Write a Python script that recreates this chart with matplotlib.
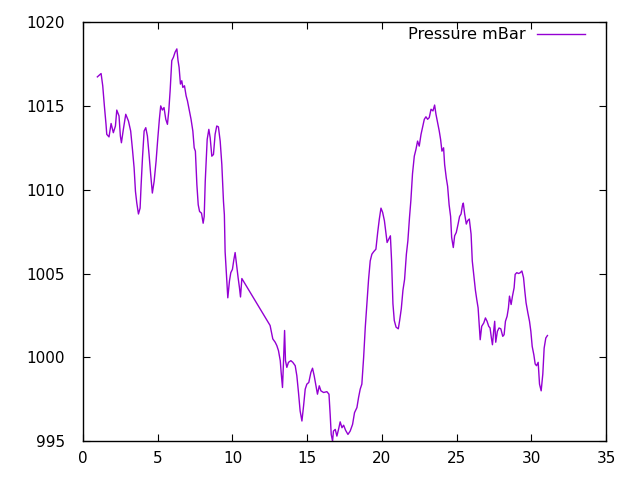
import numpy as np
import matplotlib
matplotlib.use('Agg')
import matplotlib.pyplot as plt

# Время (сутки) и давление (мБар)
days = [0.96, 1.21, 1.32, 1.43, 1.54, 1.59, 1.74, 1.88, 2.03, 2.17, 2.26, 2.41, 2.5, 2.57,
        2.7, 2.86, 3.04, 3.19, 3.31, 3.42, 3.51, 3.6, 3.71, 3.82, 3.89, 3.98, 4.09, 4.2,
        4.31, 4.42, 4.53, 4.64, 4.76, 4.89, 5.0, 5.11, 5.2, 5.31, 5.42, 5.54, 5.65, 5.74,
        5.83, 5.94, 6.05, 6.16, 6.28, 6.36, 6.43, 6.52, 6.61, 6.68, 6.79, 6.9, 6.99, 7.1,
        7.23, 7.35, 7.44, 7.52, 7.62, 7.71, 7.8, 7.93, 8.04, 8.11, 8.18, 8.24, 8.31, 8.42,
        8.51, 8.62, 8.73, 8.84, 8.95, 9.06, 9.18, 9.29, 9.4, 9.46, 9.51, 9.62, 9.69, 9.8,
        9.89, 10.0, 10.09, 10.18, 10.3, 10.38, 10.47, 10.54, 10.63,
        12.52, 12.7, 12.86, 12.97, 13.08, 13.2, 13.26, 13.35, 13.42, 13.49, 13.55, 13.64,
        13.75, 13.91, 14.04, 14.2, 14.31, 14.42, 14.53, 14.65, 14.76, 14.87, 14.98, 15.11,
        15.25, 15.36, 15.47, 15.59, 15.69, 15.81, 15.92, 16.1, 16.32, 16.46, 16.54, 16.61,
        16.7, 16.76, 16.88, 16.99, 17.1, 17.21, 17.33, 17.44, 17.57, 17.73, 17.88, 18.04,
        18.17, 18.33, 18.44, 18.55, 18.66, 18.78, 18.89, 19.0, 19.11, 19.22, 19.33, 19.45,
        19.6, 19.72, 19.83, 19.94, 20.05, 20.17, 20.28, 20.35, 20.46, 20.57, 20.65, 20.74,
        20.83, 20.95, 21.1, 21.19, 21.3, 21.41, 21.52, 21.64, 21.74, 21.85, 21.94, 22.05,
        22.17, 22.28, 22.39, 22.5, 22.62, 22.72, 22.84, 22.95, 23.06, 23.17, 23.29, 23.42,
        23.53, 23.62, 23.73, 23.84, 23.93, 24.02, 24.13, 24.2, 24.31, 24.4, 24.5, 24.6,
        24.67, 24.78, 24.87, 24.98, 25.1, 25.2, 25.3, 25.39, 25.45, 25.54, 25.65, 25.74,
        25.85, 25.97, 26.05, 26.17, 26.26, 26.35, 26.44, 26.51, 26.58, 26.68, 26.82, 26.93,
        27.04, 27.15, 27.24, 27.33, 27.4, 27.48, 27.55, 27.62, 27.73, 27.84, 27.96, 28.09,
        28.18, 28.27, 28.38, 28.47, 28.54, 28.65, 28.74, 28.85, 28.92, 29.03, 29.15, 29.26,
        29.37, 29.48, 29.56, 29.65, 29.77, 29.88, 29.97, 30.06, 30.17, 30.26, 30.35, 30.46,
        30.55, 30.66, 30.77, 30.86, 30.97, 31.08]
pressure = [1016.73, 1016.93, 1016.2, 1015.0, 1013.9, 1013.3, 1013.15, 1013.95, 1013.4, 1013.8,
            1014.75, 1014.4, 1013.2, 1012.8, 1013.6, 1014.5, 1014.1, 1013.5, 1012.4, 1011.3,
            1009.9, 1009.2, 1008.55, 1008.9, 1010.3, 1011.9, 1013.5, 1013.7, 1013.2, 1012.1,
            1010.9, 1009.8, 1010.5, 1011.7, 1013.0, 1014.2, 1015.0, 1014.75, 1014.9, 1014.2,
            1013.9, 1014.7, 1015.9, 1017.7, 1017.9, 1018.2, 1018.4, 1017.7, 1017.3, 1016.3,
            1016.5, 1016.1, 1016.2, 1015.6, 1015.3, 1014.8, 1014.2, 1013.5, 1012.5, 1012.3,
            1010.3, 1009.1, 1008.7, 1008.6, 1008.0, 1008.4, 1010.5, 1011.7, 1013.0, 1013.6,
            1013.1, 1012.0, 1012.1, 1013.3, 1013.8, 1013.75, 1012.9, 1011.5, 1009.3, 1008.5,
            1006.3, 1004.55, 1003.55, 1004.55, 1005.05, 1005.25, 1005.8, 1006.25, 1005.35,
            1004.75, 1004.15, 1003.6, 1004.7,
            1001.9, 1001.1, 1000.9, 1000.7, 1000.4, 999.8, 999.1, 998.2, 999.8, 1001.6, 999.8,
            999.4, 999.7, 999.8, 999.7, 999.5, 998.9, 997.9, 996.8, 996.2, 997.1, 998.1,
            998.4, 998.5, 999.1, 999.35, 998.9, 998.3, 997.8, 998.3, 998.0, 997.9, 997.95,
            997.8, 996.6, 995.4, 995.0, 995.6, 995.7, 995.3, 995.7, 996.15, 995.8, 995.95,
            995.65, 995.4, 995.6, 996.0, 996.7, 997.0, 997.6, 998.1, 998.4, 1000.0, 1001.8,
            1003.2, 1004.65, 1005.75, 1006.15, 1006.3, 1006.45, 1007.45, 1008.25, 1008.9,
            1008.65, 1008.15, 1007.35, 1006.85, 1007.05, 1007.25, 1005.75, 1003.2, 1002.2,
            1001.8, 1001.7, 1002.2, 1002.9, 1004.0, 1004.65, 1006.15, 1006.95, 1008.35,
            1009.35, 1010.95, 1012.0, 1012.4, 1012.9, 1012.6, 1013.3, 1013.7, 1014.2, 1014.35,
            1014.2, 1014.3, 1014.8, 1014.7, 1015.05, 1014.5, 1014.0, 1013.5, 1013.0, 1012.3,
            1012.5, 1011.5, 1010.7, 1010.2, 1009.1, 1008.4, 1007.15, 1006.55, 1007.25,
            1007.45, 1007.95, 1008.4, 1008.55, 1009.05, 1009.2, 1008.55, 1007.95, 1008.15,
            1008.25, 1007.35, 1005.75, 1004.75, 1004.0, 1003.45, 1002.95, 1002.0, 1001.05,
            1001.85, 1002.05, 1002.35, 1002.15, 1001.85, 1001.75, 1001.15, 1000.75, 1001.55,
            1002.15, 1000.9, 1001.55, 1001.75, 1001.7, 1001.25, 1001.35, 1002.15, 1002.45,
            1002.95, 1003.65, 1003.15, 1003.65, 1004.15, 1004.95, 1005.05, 1005.0, 1005.05,
            1005.15, 1004.75, 1004.0, 1003.25, 1002.65, 1002.15, 1001.55, 1000.65, 1000.15,
            999.6, 999.5, 999.7, 998.4, 998.0, 999.0, 1000.55, 1001.15, 1001.3]

fig = plt.figure(figsize=(6.4, 4.8), dpi=100)
ax = fig.add_axes([0.1297, 0.081, 0.8172, 0.873])
ax.plot(days, pressure, color='#9400d3', linewidth=1, label='Pressure mBar')

ax.set_xlim(0, 35)
ax.set_ylim(995, 1020)
ax.set_xticks(np.arange(0, 36, 5))
ax.set_yticks(np.arange(995, 1021, 5))
ax.tick_params(direction='in', top=True, right=True, length=5, labelsize=11,
               colors='black')
ax.tick_params(axis='x', pad=7)
ax.tick_params(axis='y', pad=13)
for s in ax.spines.values():
    s.set_linewidth(1)

ax.legend(loc='upper right', frameon=False, markerfirst=False, fontsize=11.6,
          handlelength=3.0, handletextpad=0.7, borderaxespad=0,
          bbox_to_anchor=(0.9727, 1.003))

fig.savefig('out.png', dpi=100)
